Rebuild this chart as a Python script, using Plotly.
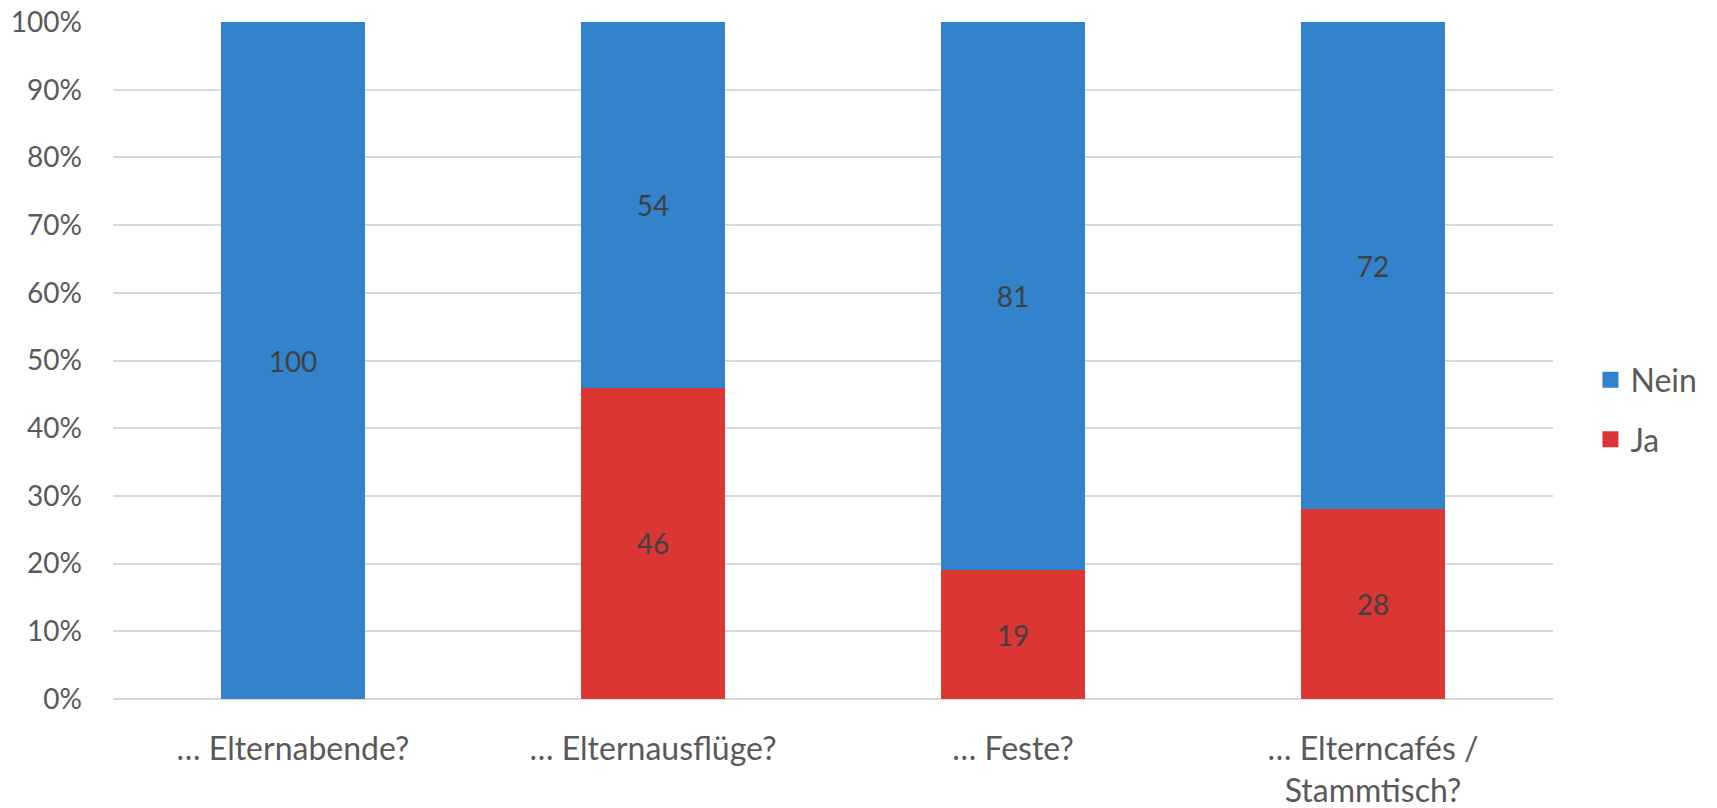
import plotly.graph_objects as go

categories = ["… Elternabende?", "… Elternausflüge?", "… Feste?", "… Elterncafés /<br>Stammtisch?"]
ja_values = [0, 46, 19, 28]
nein_values = [100, 54, 81, 72]
y_ticks = [0, 10, 20, 30, 40, 50, 60, 70, 80, 90, 100]
y_tick_labels = [f"{v}%" for v in y_ticks]

BLUE = "#3383CC"
RED = "#DA3633"
FONT = "Lato"
LABEL_FONT = dict(color="#404040", size=28, family=FONT)

fig = go.Figure()
fig.add_trace(go.Bar(
    x=categories, y=ja_values, name="Ja", marker=dict(color=RED, line=dict(width=0)),
    text=[str(v) if v else "" for v in ja_values], textposition="inside",
    insidetextanchor="middle", textfont=LABEL_FONT, textangle=0,
    showlegend=False, hoverinfo="skip",
))
fig.add_trace(go.Bar(
    x=categories, y=nein_values, name="Nein", marker=dict(color=BLUE, line=dict(width=0)),
    text=[str(v) if v else "" for v in nein_values], textposition="inside",
    insidetextanchor="middle", textfont=LABEL_FONT, textangle=0,
    showlegend=False, hoverinfo="skip",
))
# legend entries with larger square symbols (Nein above Ja)
for name, color, grp in [("Nein", BLUE, "nein"), ("Ja", RED, "ja")]:
    fig.add_trace(go.Scatter(
        x=[categories[0]], y=[None], mode="markers", name=name,
        marker=dict(symbol="square", size=21, color=color),
        legendgroup=grp, showlegend=True, hoverinfo="skip",
    ))

fig.update_layout(
    barmode="stack",
    bargap=0.6,
    width=1717, height=808,
    margin=dict(l=113, r=164, t=22, b=109),
    paper_bgcolor="white", plot_bgcolor="white",
    font=dict(family=FONT, size=27, color="#595959"),
    uniformtext=dict(mode="show", minsize=20),
    legend=dict(
        x=1.026, y=0.427, xanchor="left", yanchor="middle",
        traceorder="grouped", tracegroupgap=15,
        font=dict(size=32, color="#595959", family=FONT),
        itemwidth=30, bgcolor="rgba(0,0,0,0)",
    ),
    showlegend=True,
)
fig.update_yaxes(
    range=[0, 100], tickmode="array", tickvals=y_ticks, ticktext=y_tick_labels,
    showgrid=True, gridcolor="#D9D9D9", gridwidth=1.5,
    zeroline=True, zerolinecolor="#D9D9D9", zerolinewidth=1.5,
    showline=False, ticks="", ticklabelstandoff=30, automargin=False,
    tickfont=dict(size=28, color="#595959", family=FONT),
)
fig.update_xaxes(
    showgrid=False, showline=False, ticks="", ticklabelstandoff=28, automargin=False,
    tickfont=dict(size=32, color="#595959", family=FONT),
)

fig.write_html(
    "out.html",
    config={"displayModeBar": False},
    post_script="document.body.style.margin='0';document.body.style.overflow='hidden';",
)
